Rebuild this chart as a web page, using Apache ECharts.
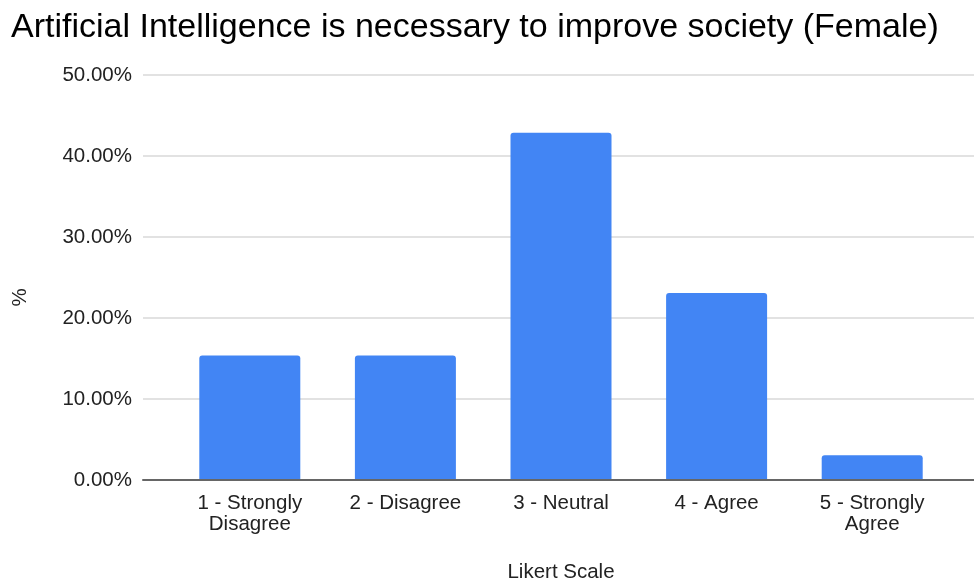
<!DOCTYPE html>
<html>
<head>
<meta charset="utf-8">
<script src="https://cdn.jsdelivr.net/npm/echarts@6/dist/echarts.min.js"></script>
<style>
html,body{margin:0;padding:0;background:#fff;}
#chart{width:974px;height:584px;}
</style>
</head>
<body>
<div id="chart"></div>
<script>
const titleText = 'Artificial Intelligence is necessary to improve society (Female)';
const categories = ['1 - Strongly\nDisagree', '2 - Disagree', '3 - Neutral', '4 - Agree', '5 - Strongly\nAgree'];
const percentValues = [15.38, 15.38, 42.86, 23.08, 3.05];
const yTicks = [0, 10, 20, 30, 40, 50];
const xAxisTitle = 'Likert Scale';
const yAxisTitle = '%';

const FONT = "'Liberation Sans', Arial, sans-serif";
const chart = echarts.init(document.getElementById('chart'), null, {renderer: 'canvas'});
const yMin = yTicks[0], yMax = yTicks[yTicks.length - 1], yStep = yTicks[1] - yTicks[0];

chart.setOption({
  animation: false,
  backgroundColor: '#ffffff',
  title: {
    text: titleText,
    left: 6,
    top: 6,
    textStyle: {fontFamily: FONT, fontSize: 34, fontWeight: 'normal', color: '#000'}
  },
  grid: [
    {left: 143, right: 0, top: 75, bottom: 104, outerBoundsMode: 'none', containLabel: false},
    {left: 172, right: 24, top: 75, bottom: 104, outerBoundsMode: 'none', containLabel: false}
  ],
  xAxis: [
    {
      gridIndex: 0, type: 'category', data: categories, z: 5,
      axisLine: {show: true, lineStyle: {color: '#666', width: 2}},
      axisTick: {show: false}, axisLabel: {show: false}, splitLine: {show: false}
    },
    {
      gridIndex: 1, type: 'category', data: categories,
      name: xAxisTitle, nameLocation: 'middle', nameGap: 82,
      nameTextStyle: {fontFamily: FONT, fontSize: 20.5, color: '#222'},
      axisLine: {show: false}, axisTick: {show: false},
      axisLabel: {fontFamily: FONT, fontSize: 20.5, color: '#222', margin: 13, lineHeight: 21, interval: 0}
    }
  ],
  yAxis: [
    {
      gridIndex: 0, type: 'value', min: yMin, max: yMax, interval: yStep,
      name: yAxisTitle, nameLocation: 'middle', nameGap: 112, nameRotate: 90,
      nameTextStyle: {fontFamily: FONT, fontSize: 20.5, color: '#222', padding: [0, 40, 0, 0]},
      axisLine: {show: false}, axisTick: {show: false},
      axisLabel: {fontFamily: FONT, fontSize: 20.5, color: '#222', margin: 11,
        formatter: v => v.toFixed(2) + '%'},
      splitLine: {show: true, lineStyle: {color: '#d9d9d9', width: 1.5}}
    },
    {
      gridIndex: 1, type: 'value', min: yMin, max: yMax, interval: yStep, show: false,
      splitLine: {show: false}
    }
  ],
  series: [{
    type: 'bar',
    xAxisIndex: 1, yAxisIndex: 1,
    data: percentValues,
    barWidth: 101,
    itemStyle: {color: '#4285F4', borderRadius: [3, 3, 0, 0]}
  }]
});
</script>
</body>
</html>
